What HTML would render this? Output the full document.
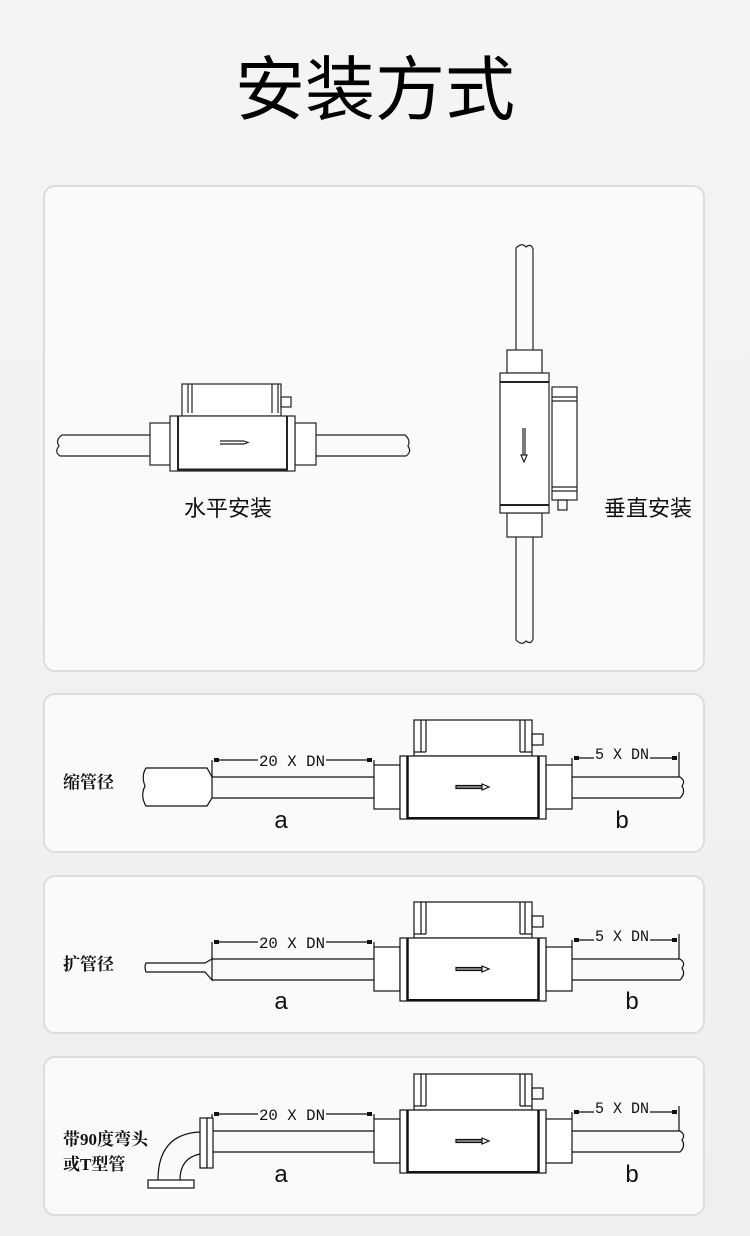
<!DOCTYPE html>
<html><head><meta charset="utf-8"><style>
html,body{margin:0;padding:0}
body{width:750px;height:1236px;background:linear-gradient(#f4f4f5,#efeff0);position:relative;overflow:hidden;font-family:"Liberation Sans","Noto Sans CJK SC",sans-serif}
.card{position:absolute;left:43px;width:662px;background:#fafafa;border:2px solid #dcdcde;border-radius:12px;box-sizing:border-box}
svg{position:absolute;left:0;top:0}
</style></head><body>
<div class="card" style="top:185px;height:487px"></div>
<div class="card" style="top:693px;height:160px"></div>
<div class="card" style="top:875px;height:159px"></div>
<div class="card" style="top:1056px;height:160px"></div>
<svg width="750" height="1236" viewBox="0 0 750 1236">
<defs>
<g id="m" fill="none" stroke="#111" stroke-width="1.2">
  <rect x="414" y="720" width="118" height="36" fill="#fff"/>
  <line x1="421" y1="720" x2="421" y2="752"/><line x1="426" y1="720" x2="426" y2="752"/>
  <line x1="414" y1="752" x2="426" y2="752"/>
  <line x1="520" y1="720" x2="520" y2="752"/><line x1="525" y1="720" x2="525" y2="752"/>
  <line x1="520" y1="752" x2="532" y2="752"/>
  <rect x="532" y="734" width="11" height="11"/>
  <rect x="374" y="765" width="26" height="44" fill="#fff"/>
  <rect x="546" y="765" width="26" height="44" fill="#fff"/>
  <rect x="400" y="756" width="146" height="63" fill="#fff"/>
  <line x1="407.5" y1="756" x2="407.5" y2="819" stroke-width="2.5"/>
  <line x1="538.5" y1="756" x2="538.5" y2="819" stroke-width="2.5"/>
  <line x1="407" y1="818" x2="539" y2="818" stroke-width="2"/>
  <rect x="456" y="785.5" width="26" height="3" fill="#888"/>
  <path d="M482 784 L489 787 L482 790 Z" fill="#fff"/>
  <line x1="212" y1="777" x2="374" y2="777"/><line x1="212" y1="798" x2="374" y2="798"/>
  <path d="M572 777 H680 Q686 781 682 786 Q686 792 680 798 H572"/>
  <line x1="212" y1="760" x2="212" y2="777"/>
  <line x1="374" y1="760" x2="374" y2="765"/>
  <line x1="214" y1="760" x2="258" y2="760"/><line x1="326" y1="760" x2="372" y2="760"/>
  <line x1="574" y1="758" x2="594" y2="758"/><line x1="650" y1="758" x2="677" y2="758"/>
  <line x1="679" y1="752" x2="679" y2="777"/>
  <line x1="572" y1="758" x2="572" y2="765"/>
  <path d="M214 758 v4 h5 v-4z M372 758 v4 h-5 v-4z M574 756 v4 h5 v-4z M677 756 v4 h-5 v-4z" fill="#111" stroke="none"/>
</g>
</defs>

<text x="375" y="114" text-anchor="middle" font-family="Liberation Sans, Noto Sans CJK SC, sans-serif" font-size="70" font-weight="400" fill="#000">安装方式</text>

<g fill="none" stroke="#222" stroke-width="1.2">
  <path d="M150 435 H62 Q55 440 59 446 Q54 452 60 456 H150"/>
  <path d="M316 435 H405 Q411 440 408 446 Q412 452 406 456 H316"/>
  <rect x="150" y="423" width="20" height="42" fill="#fff"/>
  <rect x="295" y="423" width="21" height="42" fill="#fff"/>
  <rect x="182" y="384" width="99" height="32" fill="#fff"/>
  <line x1="188" y1="384" x2="188" y2="413"/><line x1="192" y1="384" x2="192" y2="413"/>
  <line x1="272" y1="384" x2="272" y2="413"/><line x1="278" y1="384" x2="278" y2="413"/>
  <rect x="281" y="397" width="10" height="10"/>
  <rect x="170" y="416" width="125" height="55" fill="#fff"/>
  <line x1="178" y1="416" x2="178" y2="471" stroke-width="2"/>
  <line x1="287" y1="416" x2="287" y2="471" stroke-width="2"/>
  <line x1="178" y1="469.5" x2="287" y2="469.5" stroke-width="2"/>
  <path d="M220 441 H244 M220 444 H244 L248 442.5 L244 441"/>
</g>
<text x="228" y="516" text-anchor="middle" font-size="22" fill="#111">水平安装</text>

<g fill="none" stroke="#222" stroke-width="1.2">
  <path d="M516 350 V248 Q522 242 526 247 Q531 243 533 249 V350"/>
  <path d="M516 537 V640 Q522 646 526 641 Q531 645 533 639 V537"/>
  <rect x="507" y="350" width="35" height="23" fill="#fff"/>
  <rect x="507" y="513" width="35" height="24" fill="#fff"/>
  <rect x="552" y="387" width="25" height="113" fill="#fff"/>
  <line x1="552" y1="397" x2="577" y2="397"/><line x1="552" y1="401" x2="577" y2="401"/>
  <line x1="552" y1="487" x2="577" y2="487"/><line x1="552" y1="491" x2="577" y2="491"/>
  <rect x="558" y="500" width="9" height="10"/>
  <rect x="500" y="373" width="49" height="140" fill="#fff"/>
  <line x1="500" y1="382" x2="549" y2="382" stroke-width="2"/>
  <line x1="500" y1="505" x2="549" y2="505" stroke-width="2"/>
  <path d="M523 428 V455 M525 428 V455 M521 455 L524 462 L527 455 Z"/>
</g>
<text x="648" y="516" text-anchor="middle" font-size="22" fill="#111">垂直安装</text>

<use href="#m"/>
<g fill="none" stroke="#111" stroke-width="1.2">
  <path d="M207 768 H146 Q141 776 145 786 Q140 796 146 806 H207 L212 798 V777 Z" fill="#fff"/>
</g>
<use href="#m" transform="translate(0,182)"/>
<g fill="none" stroke="#111" stroke-width="1.2">
  <path d="M205 963 H146 Q144 967 146 972 H205 L212 980 V959 Z" fill="#fff"/>
</g>
<use href="#m" transform="translate(0,354)"/>
<g fill="none" stroke="#111" stroke-width="1.2">
  <rect x="200" y="1118" width="7" height="50" fill="#fff"/>
  <rect x="207" y="1118" width="6" height="50" fill="#fff"/>
  <path d="M200 1132 Q158 1134 158 1180"/>
  <path d="M200 1154 Q180 1158 180 1180"/>
  <rect x="148" y="1180" width="46" height="8" fill="#fff"/>
</g>

<g font-family="Liberation Mono, monospace" font-size="16" fill="#111" text-anchor="middle">
  <text x="292" y="766" textLength="66" lengthAdjust="spacingAndGlyphs">20 X DN</text>
  <text x="622" y="759" textLength="54" lengthAdjust="spacingAndGlyphs">5 X DN</text>
  <text x="292" y="948" textLength="66" lengthAdjust="spacingAndGlyphs">20 X DN</text>
  <text x="622" y="941" textLength="54" lengthAdjust="spacingAndGlyphs">5 X DN</text>
  <text x="292" y="1120" textLength="66" lengthAdjust="spacingAndGlyphs">20 X DN</text>
  <text x="622" y="1113" textLength="54" lengthAdjust="spacingAndGlyphs">5 X DN</text>
</g>
<g font-family="Liberation Sans, sans-serif" font-size="24" fill="#111" text-anchor="middle">
  <text x="281" y="828">a</text><text x="622" y="828">b</text>
  <text x="281" y="1009">a</text><text x="632" y="1009">b</text>
  <text x="281" y="1182">a</text><text x="632" y="1182">b</text>
</g>
<g font-family="Liberation Serif, Noto Serif CJK SC, serif" font-size="17" font-weight="bold" fill="#111">
  <text x="63" y="788">缩管径</text>
  <text x="63" y="970">扩管径</text>
  <text x="63" y="1145">带90度弯头</text>
  <text x="63" y="1170">或T型管</text>
</g>
</svg>
</body></html>
